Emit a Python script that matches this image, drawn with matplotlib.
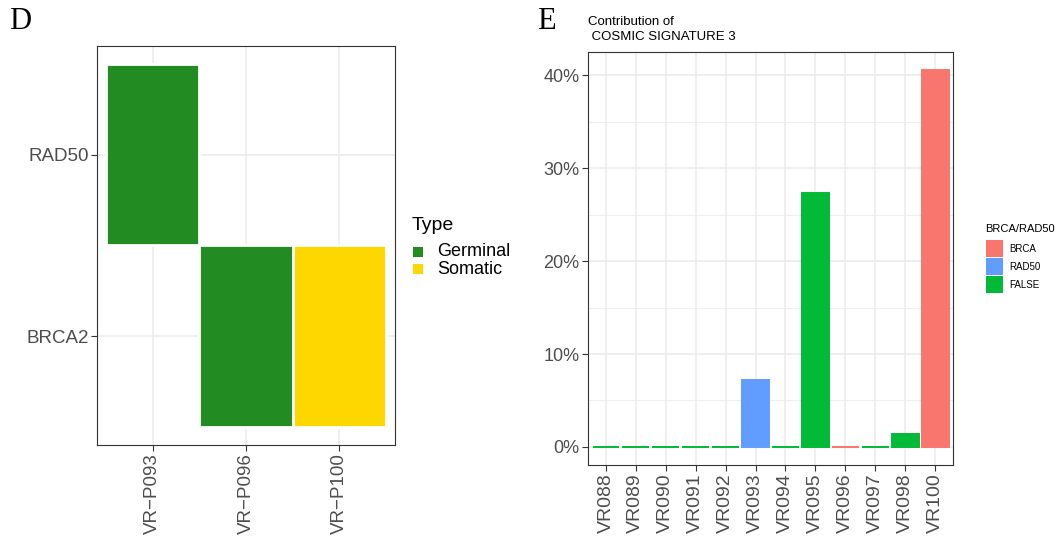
import matplotlib.pyplot as plt
from matplotlib.patches import Rectangle
from matplotlib.ticker import FuncFormatter, MultipleLocator

plt.rcParams['font.family'] = ['Liberation Sans', 'DejaVu Sans']

# panel D data
samples_d = ["VR\u2212P093", "VR\u2212P096", "VR\u2212P100"]
genes_d = ["BRCA2", "RAD50"]
tile_sample = ["VR\u2212P093", "VR\u2212P096", "VR\u2212P100"]
tile_gene = ["RAD50", "BRCA2", "BRCA2"]
tile_type = ["Germinal", "Germinal", "Somatic"]
type_colors = {"Germinal": "#228B22", "Somatic": "#FFD700"}

# panel E data
samples_e = ["VR088", "VR089", "VR090", "VR091", "VR092", "VR093",
             "VR094", "VR095", "VR096", "VR097", "VR098", "VR100"]
contrib = [0.0, 0.0, 0.0, 0.0, 0.0, 7.2, 0.0, 27.3, 0.0, 0.0, 1.4, 40.6]
group = ["FALSE", "FALSE", "FALSE", "FALSE", "FALSE", "RAD50",
         "FALSE", "FALSE", "BRCA", "FALSE", "FALSE", "BRCA"]
group_colors = {"BRCA": "#F8766D", "RAD50": "#619CFF", "FALSE": "#00BA38"}

grid_c = "#EBEBEB"
tick_c = "#4D4D4D"
frame_c = "#333333"

W, H = 1062, 538
fig = plt.figure(figsize=(W / 100, H / 100), dpi=100)


def px(x, y):
    # pixel position (from top-left) -> figure fraction
    return x / W, 1 - y / H


def key_legend(title, labels, colors, x0, y_title, y0, size, step, gap,
               title_fs, label_fs):
    fig.text(*px(x0 - 1, y_title), title, fontsize=title_fs, va="center", ha="left")
    for i, (lab, c) in enumerate(zip(labels, colors)):
        top = y0 + i * step
        fx, fy = px(x0, top + size)
        fig.add_artist(Rectangle((fx, fy), size / W, size / H, facecolor=c,
                                 edgecolor="none", transform=fig.transFigure))
        fig.text(*px(x0 + size + gap, top + size / 2), lab, fontsize=label_fs,
                 va="center", ha="left")


def style_axes(ax):
    for s in ax.spines.values():
        s.set_color(frame_c)
        s.set_linewidth(0.8)
    ax.tick_params(colors=frame_c, length=4, width=0.8, labelcolor=tick_c, pad=2)
    ax.set_axisbelow(True)


# ---- D ----
ax1 = fig.add_axes([0.0913, 0.1729, 0.2806, 0.7416])
style_axes(ax1)
for s, g, t in zip(tile_sample, tile_gene, tile_type):
    x = samples_d.index(s) + 1
    y = genes_d.index(g) + 1
    ax1.add_patch(Rectangle((x - 0.5, y - 0.5), 1, 1, facecolor=type_colors[t],
                            edgecolor="white", linewidth=2, zorder=2))
ax1.set_xlim(0.4, 3.6)
ax1.set_ylim(0.4, 2.6)
ax1.set_xticks(range(1, len(samples_d) + 1))
ax1.set_xticklabels(samples_d, rotation=90, fontsize=13.5)
ax1.set_yticks(range(1, len(genes_d) + 1))
ax1.set_yticklabels(genes_d, fontsize=13.5)
ax1.grid(True, color=grid_c, linewidth=1.1, zorder=0)

key_legend("Type", list(type_colors), list(type_colors.values()),
           413, 226, 247, 10, 17, 14, 14, 13)

fig.text(0.009, 0.96, "D", family="Liberation Serif", fontsize=22, va="center")

# ---- E ----
ax2 = fig.add_axes([0.5537, 0.1357, 0.3437, 0.7677])
style_axes(ax2)
xs = list(range(1, len(samples_e) + 1))
cols = [group_colors[g] for g in group]
ax2.bar(xs, contrib, width=0.9, color=cols, edgecolor=cols, linewidth=1.4, zorder=2)
ax2.set_xlim(0.4, len(samples_e) + 0.6)
ax2.set_ylim(-1.94, 42.5)
ax2.set_xticks(xs)
ax2.set_xticklabels(samples_e, rotation=90, fontsize=14)
ax2.yaxis.set_major_locator(MultipleLocator(10))
ax2.yaxis.set_minor_locator(MultipleLocator(5))
ax2.yaxis.set_major_formatter(FuncFormatter(lambda v, p: f"{v:.0f}%"))
ax2.tick_params(axis="y", labelsize=13)
ax2.tick_params(axis="y", which="minor", length=0)
ax2.grid(True, which="major", color=grid_c, linewidth=1.1, zorder=0)
ax2.grid(True, which="minor", axis="y", color=grid_c, linewidth=0.6, zorder=0)
fig.text(*px(588, 29.5), "Contribution of\n COSMIC SIGNATURE 3", fontsize=9.5,
         ha="left", va="center", linespacing=1.25)

key_legend("BRCA/RAD50", list(group_colors), list(group_colors.values()),
           986, 229, 240, 17, 18, 6, 8, 7)

fig.text(0.506, 0.96, "E", family="Liberation Serif", fontsize=22, va="center")

plt.savefig("out.png", dpi=100)
